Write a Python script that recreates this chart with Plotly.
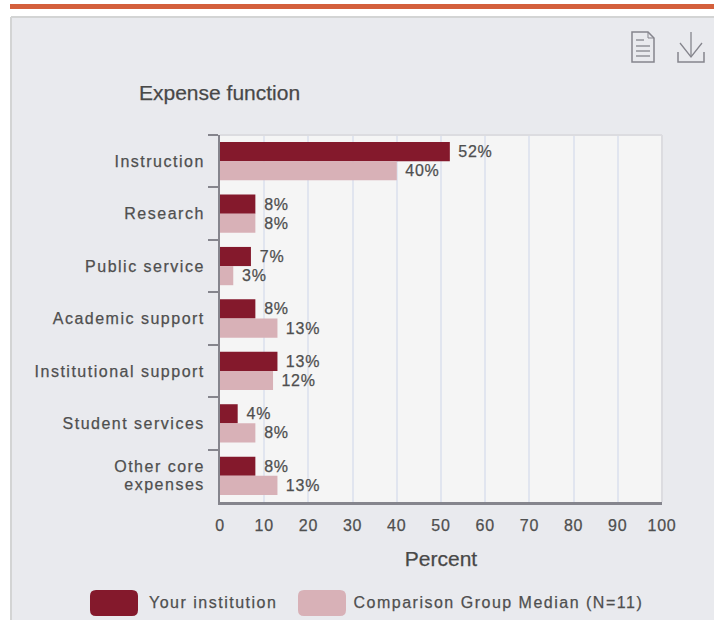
import plotly.graph_objects as go

categories = ["Instruction", "Research", "Public service", "Academic support",
              "Institutional support", "Student services", "Other core<br>expenses"]
your_institution = [52, 8, 7, 8, 13, 4, 8]
comparison_median = [40, 8, 3, 13, 12, 8, 13]
series_names = ["Your institution", "Comparison Group Median (N=11)"]
title_text = "Expense function"
x_title = "Percent"
x_ticks = list(range(0, 101, 10))

W, H = 714, 620
DARK, LIGHT = "#84192c", "#d8b1b7"
FONT = "Liberation Sans"
TEXT = "#4f4f4f"
AXIS = "#85858d"
CARD = "#e9eaee"


def px(x):
    return x / W


def py(y):
    return 1 - y / H


def pth(points, close=False):
    d = " ".join(("M" if i == 0 else "L") + f"{px(a):.5f},{py(b):.5f}" for i, (a, b) in enumerate(points))
    return d + (" Z" if close else "")


def rounded(x0, y0, x1, y1, r):
    return (f"M{px(x0+r):.5f},{py(y0):.5f} L{px(x1-r):.5f},{py(y0):.5f} "
            f"Q{px(x1):.5f},{py(y0):.5f} {px(x1):.5f},{py(y0+r):.5f} "
            f"L{px(x1):.5f},{py(y1-r):.5f} Q{px(x1):.5f},{py(y1):.5f} {px(x1-r):.5f},{py(y1):.5f} "
            f"L{px(x0+r):.5f},{py(y1):.5f} Q{px(x0):.5f},{py(y1):.5f} {px(x0):.5f},{py(y1-r):.5f} "
            f"L{px(x0):.5f},{py(y0+r):.5f} Q{px(x0):.5f},{py(y0):.5f} {px(x0+r):.5f},{py(y0):.5f} Z")


def paper_shape(**kw):
    return dict(xref="paper", yref="paper", **kw)


fig = go.Figure()
for name, vals, col in [(series_names[0], your_institution, DARK), (series_names[1], comparison_median, LIGHT)]:
    fig.add_trace(go.Bar(
        y=categories, x=vals, name=name, orientation="h",
        marker=dict(color=col, line=dict(width=0)),
        text=[f"\u00a0\u200a{v}%" for v in vals], textposition="outside",
        textfont=dict(family=FONT, size=16, color=TEXT), cliponaxis=False,
        showlegend=False,
    ))

icon = "#85858d"
shapes = [
    # page furniture: white page round the card
    paper_shape(type="rect", x0=0, x1=1, y0=py(17), y1=1, fillcolor="white", line_width=0, layer="below"),
    paper_shape(type="rect", x0=0, x1=px(11), y0=0, y1=1, fillcolor="white", line_width=0, layer="below"),
    paper_shape(type="rect", x0=px(10), x1=1, y0=py(4), y1=py(9), fillcolor="#d4603c", line_width=0, layer="below"),
    paper_shape(type="line", x0=px(11), x1=1, y0=py(17), y1=py(17), line=dict(color="#d3d4d4", width=2), layer="below"),
    paper_shape(type="line", x0=px(11), x1=px(11), y0=0, y1=py(17), line=dict(color="#d3d4d4", width=2), layer="below"),
    # plot frame, top and right
    dict(type="line", xref="x domain", yref="y domain", x0=0, x1=1, y0=1, y1=1, line=dict(color="#dcdce0", width=2)),
    dict(type="line", xref="x domain", yref="y domain", x0=1, x1=1, y0=0, y1=1, line=dict(color="#dcdce0", width=2)),
    # document icon
    paper_shape(type="path", path=pth([(632, 32), (648, 32), (654, 38), (654, 62), (632, 62)], True), line=dict(color=icon, width=1.5)),
    paper_shape(type="path", path=pth([(648, 32), (648, 38), (654, 38)]), line=dict(color=icon, width=1)),
    paper_shape(type="path", path=pth([(636, 40), (644, 40)]), line=dict(color=icon, width=1.3)),
    paper_shape(type="path", path=pth([(636, 46), (650, 46)]), line=dict(color=icon, width=1.3)),
    paper_shape(type="path", path=pth([(636, 51), (650, 51)]), line=dict(color=icon, width=1.3)),
    paper_shape(type="path", path=pth([(636, 56), (650, 56)]), line=dict(color=icon, width=1.3)),
    # download icon
    paper_shape(type="path", path=pth([(691, 32), (691, 57)]), line=dict(color=icon, width=1.3)),
    paper_shape(type="path", path=pth([(680, 43), (691, 57), (702, 43)]), line=dict(color=icon, width=1.3)),
    paper_shape(type="path", path=pth([(678, 52), (678, 62), (704, 62), (704, 52)]), line=dict(color=icon, width=1.5)),
    # legend swatches
    paper_shape(type="path", path=rounded(90, 590, 138, 616, 6), fillcolor=DARK, line_width=0),
    paper_shape(type="path", path=rounded(298, 590, 346, 616, 6), fillcolor=LIGHT, line_width=0),
]

annotations = [
    dict(xref="paper", yref="paper", x=px(213), y=py(602), text=series_names[0], showarrow=False, xanchor="center", yanchor="middle",
         font=dict(family=FONT, size=16, color=TEXT)),
    dict(xref="paper", yref="paper", x=px(499), y=py(602), text=series_names[1], showarrow=False, xanchor="center", yanchor="middle",
         font=dict(family=FONT, size=16, color=TEXT)),
]

fig.update_layout(
    width=W, height=H, margin=dict(l=0, r=0, t=0, b=0, autoexpand=False),
    paper_bgcolor=CARD, plot_bgcolor="#f5f5f5",
    barmode="group", bargap=0.27, bargroupgap=0,
    title=dict(text=title_text, x=px(139), y=py(93), xref="paper", yref="paper", xanchor="left", yanchor="middle",
               font=dict(family=FONT, size=21, color="#474747")),
    shapes=shapes, annotations=annotations,
    xaxis=dict(domain=[px(220), px(662)], range=[0, 100], tickvals=x_ticks, ticks="",
               showgrid=True, gridcolor="#e1e5ef", gridwidth=2, zeroline=False,
               showline=True, linecolor=AXIS, linewidth=2.5, ticklabelstandoff=7,
               tickfont=dict(family=FONT, size=16, color=TEXT),
               title=dict(text=x_title, font=dict(family=FONT, size=21, color="#474747"), standoff=19)),
    yaxis=dict(domain=[py(502), py(135)], autorange="reversed", tickson="boundaries", ticks="outside",
               ticklen=10, tickwidth=2, tickcolor=AXIS, showgrid=False, zeroline=False,
               showline=True, linecolor=AXIS, linewidth=2, ticklabelstandoff=10,
               tickfont=dict(family=FONT, size=16, color=TEXT)),
    font=dict(family=FONT),
)

css = ("document.body.style.margin='0';document.documentElement.style.overflow='hidden';"
       "var s=document.createElement('style');"
       "s.textContent='.ytick text,.annotation-text{letter-spacing:1.5px}"
       ".xtick text,.bartext{letter-spacing:.8px}"
       ".main-svg text{stroke:#4f4f4f;stroke-width:.25px}';"
       "document.head.appendChild(s);"
       "document.querySelectorAll('.ytick text').forEach(function(t){"
       "var l=t.querySelectorAll('tspan.line');"
       "if(l.length==2){var a=parseFloat(l[0].getAttribute('y'));var b=parseFloat(l[1].getAttribute('y'));"
       "l[0].setAttribute('y',a+1);l[1].setAttribute('y',b-2);}});")
fig.write_html("out.html", post_script=css, config={"displayModeBar": False})
